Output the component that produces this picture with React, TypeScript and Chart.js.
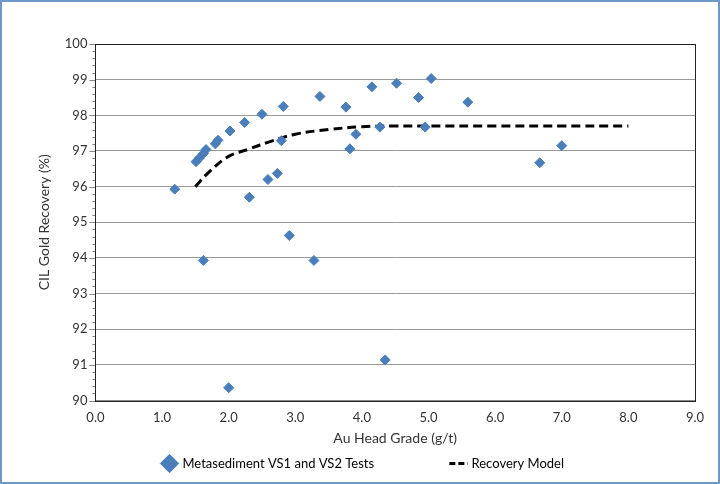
import React, { useEffect, useRef } from "react";
import { Chart, registerables } from "chart.js";
Chart.register(...registerables);

const testX = [1.19,1.51,1.56,1.62,1.66,1.8,1.84,2.02,2.24,2.5,2.82,3.37,3.76,4.15,4.52,4.85,5.04,5.59,2.79,3.91,3.82,4.27,4.95,2.59,2.73,2.31,2.91,1.62,3.28,4.35,2.0,6.67,7.0];
const testY = [95.93,96.7,96.8,96.93,97.04,97.2,97.3,97.56,97.8,98.03,98.25,98.53,98.23,98.8,98.9,98.5,99.03,98.37,97.29,97.47,97.06,97.67,97.67,96.2,96.37,95.7,94.63,93.93,93.93,91.14,90.36,96.67,97.15];
const modelX = [1.5,1.7,2.0,2.3,2.6,3.0,3.5,4.0,4.5,5.0,6.0,7.0,8.0];
const modelY = [96.0,96.4,96.85,97.05,97.25,97.47,97.6,97.68,97.7,97.7,97.7,97.7,97.7];

export default function App() {
  const ref = useRef<HTMLCanvasElement>(null);
  useEffect(() => {
    document.body.style.margin = "0";
    const font = { family: "Lato, 'DejaVu Sans', sans-serif", size: 13 };
    const minor = {
      id: "minor",
      afterDraw(c: any) {
        const ctx = c.ctx, y = c.scales.y, x = c.scales.x;
        ctx.save(); ctx.strokeStyle = "#888"; ctx.lineWidth = 1;
        for (let v = 90; v <= 100.001; v += 0.2) {
          const p = Math.round(y.getPixelForValue(v)) + 0.5;
          const major = Math.abs(v - Math.round(v)) < 0.01;
          ctx.beginPath(); ctx.moveTo(x.left - (major ? 6 : 3), p); ctx.lineTo(x.left, p); ctx.stroke();
        }
        ctx.strokeStyle = "#222"; ctx.lineWidth = 1;
        const a = c.chartArea;
        ctx.strokeRect(Math.round(a.left) + 0.5, Math.round(a.top) + 0.5, Math.round(a.right - a.left), Math.round(a.bottom - a.top));
        ctx.restore();
      },
    };
    const chart = new Chart(ref.current!, {
      type: "scatter",
      data: {
        datasets: [
          { label: "Metasediment VS1 and VS2 Tests", data: testX.map((v, i) => ({ x: v, y: testY[i] })), pointStyle: "rectRot", pointRadius: 5, backgroundColor: "#4a7ebb", borderColor: "#4a7ebb" },
          { label: "Recovery Model", type: "line", data: modelX.map((v, i) => ({ x: v, y: modelY[i] })), borderColor: "#000", borderWidth: 3, borderDash: [9, 5], pointRadius: 0, tension: 0.4, fill: false, showLine: true } as any,
        ],
      },
      options: {
        animation: false, responsive: false,
        layout: { padding: { left: 30, right: 23, top: 42, bottom: 2 } },
        plugins: {
          legend: { position: "bottom", labels: { font, color: "#333", usePointStyle: true, boxWidth: 40, padding: 8,
            generateLabels: () => [
              { text: "Metasediment VS1 and VS2 Tests                     ", pointStyle: "rectRot", fillStyle: "#4a7ebb", strokeStyle: "#4a7ebb", lineWidth: 1, datasetIndex: 0 },
              { text: "Recovery Model", pointStyle: "line", fillStyle: "#000", strokeStyle: "#000", lineWidth: 3, lineDash: [6, 3], datasetIndex: 1 },
            ] as any } },
          tooltip: { enabled: false },
        },
        scales: {
          x: { min: 0, max: 9, ticks: { stepSize: 1, font, color: "#333", callback: (v: any) => Number(v).toFixed(1) },
            grid: { display: false, drawTicks: true, tickLength: 6, tickColor: "#888" } as any,
            border: { color: "#888", width: 1 },
            title: { display: true, text: "Au Head Grade (g/t)", font: { ...font, size: 14 }, color: "#333", padding: 2 } },
          y: { min: 90, max: 100, ticks: { stepSize: 1, font, color: "#333", padding: 8 },
            grid: { color: "#999", drawTicks: false },
            border: { color: "#888", width: 1 },
            title: { display: true, text: "CIL Gold Recovery (%)", font: { ...font, size: 14 }, color: "#333" } },
        },
      },
      plugins: [minor],
    });
    return () => chart.destroy();
  }, []);
  return (
    <div style={{ width: 720, height: 484, boxSizing: "border-box", border: "2px solid #6f98c8", background: "#fff" }}>
      <canvas ref={ref} width={716} height={480} />
    </div>
  );
}
